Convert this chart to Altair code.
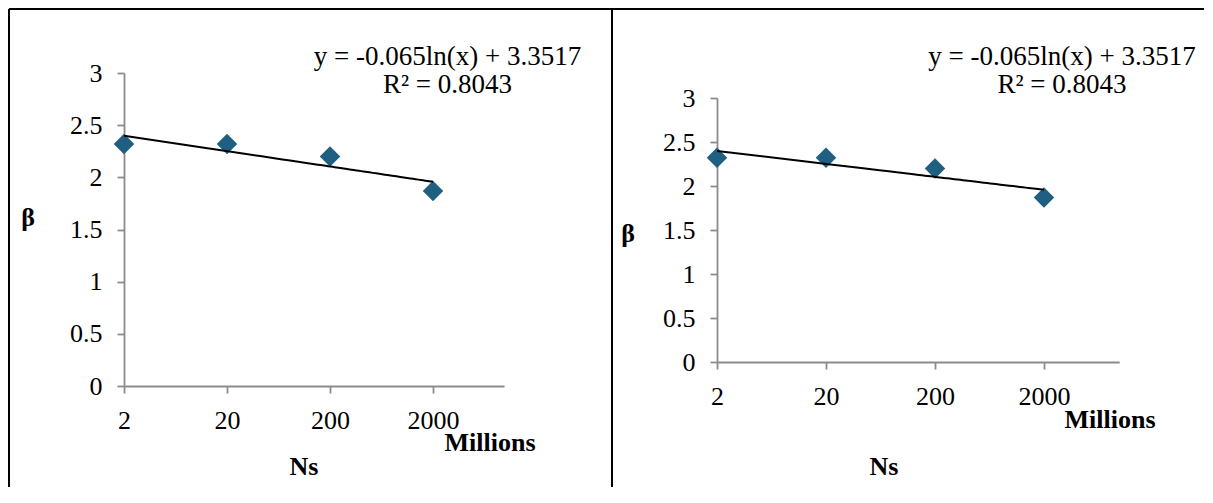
import altair as alt
import pandas as pd

# ---- data ----
ns_millions = [2, 20, 200, 2000]
beta = [2.32, 2.32, 2.20, 1.87]
x_ticks = [2, 20, 200, 2000]
y_ticks = [0, 0.5, 1, 1.5, 2, 2.5, 3]
x_domain = [2, 9800]
y_domain = [0, 3]
equation = "y = -0.065ln(x) + 3.3517"
r_squared = "R\u00b2 = 0.8043"
y_title = "\u03b2"
x_title = "Ns"
x_unit = "Millions"

df = pd.DataFrame({"ns": ns_millions, "beta": beta})
one = alt.Data(values=[{"k": 1}])

H = 480
SERIF = "Liberation Serif"
GRAY = "#8c8c8c"
MARKER = "#1f5f82"


def panel(W, xr, yr, eq_x, beta_xy, ns_xy, mill_xy, borders):
    x_enc = alt.X(
        "ns:Q",
        scale=alt.Scale(type="log", domain=x_domain, range=xr, nice=False),
        axis=alt.Axis(values=x_ticks, format="~g", title=None, grid=False,
                      offset=yr[0] - H, labelFlush=False, labelOverlap=False,
                      tickSize=7, labelPadding=14, domainColor=GRAY, tickColor=GRAY,
                      domainWidth=1.8, tickWidth=1.8, labelFont=SERIF,
                      labelFontSize=26, labelColor="black"),
    )
    y_enc = alt.Y(
        "beta:Q",
        scale=alt.Scale(domain=y_domain, range=yr, nice=False, zero=False),
        axis=alt.Axis(values=y_ticks, format="~g", title=None, grid=False,
                      offset=-xr[0], labelOverlap=False, tickSize=7, labelPadding=15,
                      domainColor=GRAY, tickColor=GRAY, domainWidth=1.8, tickWidth=1.8,
                      labelFont=SERIF, labelFontSize=26, labelColor="black"),
    )
    base = alt.Chart(df)
    points = base.mark_point(shape="diamond", filled=True, size=420, color=MARKER,
                             opacity=1, strokeWidth=0).encode(x=x_enc, y=y_enc)
    trend = base.transform_regression("ns", "beta", method="log").mark_line(
        color="black", strokeWidth=2).encode(x=x_enc, y=y_enc)

    def txt(s, x, y, size=27, bold=False, baseline="alphabetic"):
        return alt.Chart(one).mark_text(
            text=s, font=SERIF, fontSize=size, fontWeight="bold" if bold else "normal",
            color="black", align="center", baseline=baseline,
        ).encode(x=alt.value(x), y=alt.value(y))

    layers = [points, trend,
              txt(equation, eq_x, 57),
              txt(r_squared, eq_x, 85),
              txt(y_title, beta_xy[0], beta_xy[1], 26, True, "middle"),
              txt(x_title, ns_xy[0], ns_xy[1], 26, True),
              txt(x_unit, mill_xy[0], mill_xy[1], 26, True)]
    for b in borders:
        layers.append(alt.Chart(one).mark_rule(color="black", strokeWidth=2).encode(**b))
    return alt.layer(*layers).properties(width=W, height=H)


W1, W2 = 605, 592
left = panel(
    W1, [116, 496.1], [378, 65], 439.5, (20, 210), (296, 467), (482, 443),
    [
        dict(x=alt.value(1), y=alt.value(1), y2=alt.value(H - 1)),
        dict(x=alt.value(1), x2=alt.value(W1 - 1), y=alt.value(1)),
        dict(x=alt.value(W1 - 1), y=alt.value(1), y2=alt.value(H - 1)),
    ],
)
right = panel(
    W2, [104, 506.2], [354, 90], 449, (15, 226), (271, 467), (497, 420),
    [
        dict(x=alt.value(-1), x2=alt.value(W2 - 1), y=alt.value(1)),
    ],
)

chart = alt.hconcat(left, right, spacing=0, bounds="flush", padding=0).resolve_scale(
    x="independent", y="independent"
).configure_view(strokeWidth=0)

chart.save("out.html", embed_options={"renderer": "svg", "actions": False})
